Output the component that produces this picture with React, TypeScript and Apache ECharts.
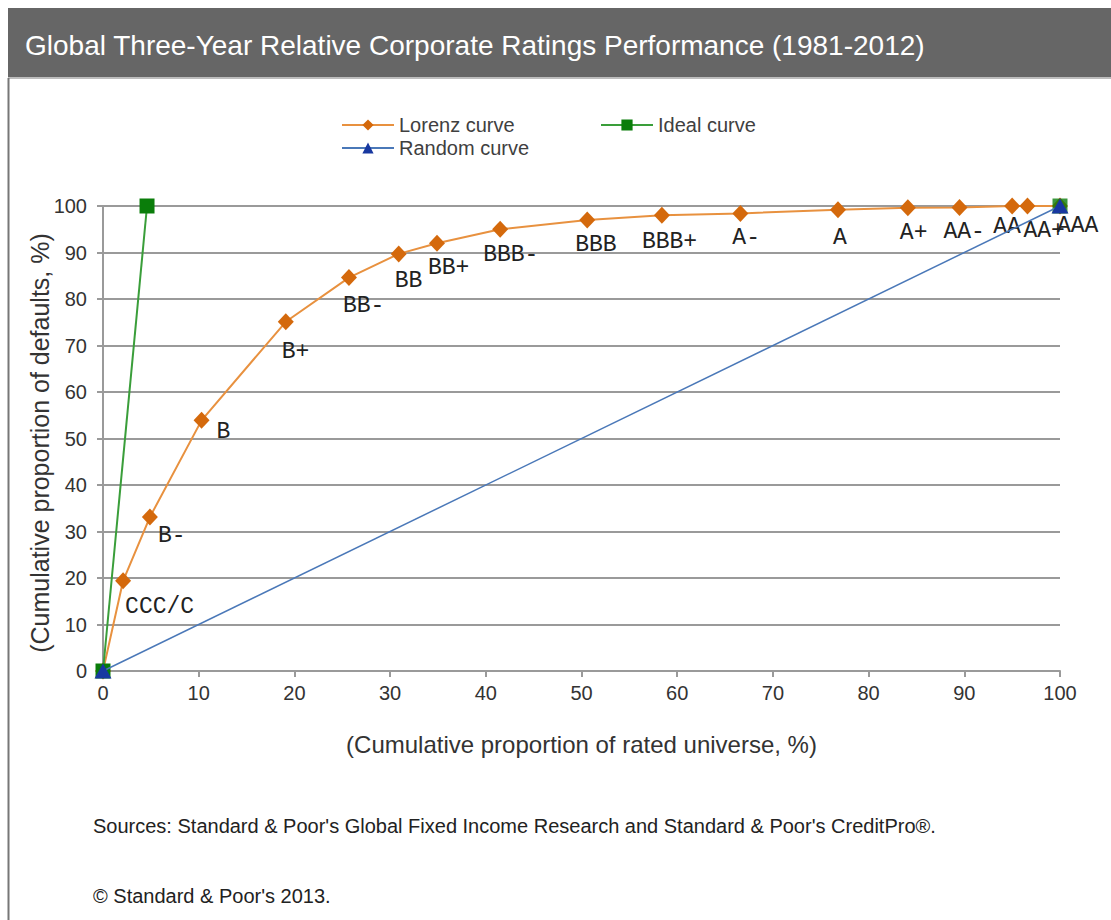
import React, { useEffect, useRef } from "react";
import * as echarts from "echarts";

const ratings = ["", "CCC/C", "B-", "B", "B+", "BB-", "BB", "BB+", "BBB-", "BBB", "BBB+", "A-", "A", "A+", "AA-", "AA", "AA+", "AAA"];
const lorenzX = [0, 2.1, 4.9, 10.3, 19.1, 25.7, 30.9, 34.9, 41.5, 50.6, 58.4, 66.6, 76.8, 84.1, 89.5, 95.0, 96.6, 100];
const lorenzY = [0, 19.4, 33.1, 53.9, 75.1, 84.6, 89.7, 92.0, 95.0, 97.0, 98.0, 98.4, 99.2, 99.6, 99.7, 100, 100, 100];
const labelOffsets: number[][] = [
  [0, 0], [2, 26], [8, 19], [15, 12], [-4, 30], [-6, 28], [-4, 27], [-9, 25], [-17, 26], [-12, 25],
  [-20, 27], [-8, 25], [-5, 28], [-8, 25], [-16, 25], [-19, 21], [-4, 25], [-3, 20],
];
const idealX = [0, 4.6];
const idealY = [0, 100];
const idealEnd = [100, 100];
const randomX = [0, 100];
const randomY = [0, 100];

const title = "Global Three-Year Relative Corporate Ratings Performance (1981-2012)";
const xName = "(Cumulative proportion of rated universe, %)";
const yName = "(Cumulative proportion of defaults, %)";
const note1 = "Sources: Standard & Poor's Global Fixed Income Research and Standard & Poor's CreditPro®.";
const note2 = "© Standard & Poor's 2013.";

const SANS = "'Liberation Sans', Arial, sans-serif";
const MONO = "'Liberation Mono', 'Courier New', monospace";

export default function App() {
  const ref = useRef<HTMLDivElement>(null);
  useEffect(() => {
    document.body.style.margin = "0";
    document.body.style.overflow = "hidden";
    if (!ref.current) return;
    const chart = echarts.init(ref.current, null, { renderer: "svg" });

    const lorenzData = lorenzX.map((x, i) => ({
      value: [x, lorenzY[i]],
      name: ratings[i],
      label: {
        show: ratings[i] !== "",
        offset: labelOffsets[i],
      },
    }));

    const legendCommon = {
      itemWidth: 52,
      itemHeight: 14,
      itemGap: 4,
      padding: 0,
      textStyle: { fontFamily: SANS, fontSize: 20, color: "#404040" },
      selectedMode: false,
    };

    chart.setOption({
      animation: false,
      backgroundColor: "#ffffff",
      grid: {
        left: 103,
        top: 206,
        width: 957,
        height: 465,
        containLabel: false,
        outerBoundsMode: "none",
      },
      legend: [
        { ...legendCommon, left: 341, top: 115, data: ["Lorenz curve"] },
        { ...legendCommon, left: 600, top: 115, data: ["Ideal curve"] },
        { ...legendCommon, left: 341, top: 138, data: ["Random curve"] },
      ],
      xAxis: {
        type: "value",
        min: 0,
        max: 100,
        interval: 10,
        name: xName,
        nameLocation: "middle",
        nameGap: 61,
        nameTextStyle: { fontFamily: SANS, fontSize: 24, color: "#333" },
        axisLine: { show: true, lineStyle: { color: "#9a9a9a", width: 2 } },
        axisTick: { show: true, length: 6, lineStyle: { color: "#9a9a9a", width: 2 } },
        splitLine: { show: false },
        axisLabel: { fontFamily: SANS, fontSize: 20, color: "#333", margin: 12 },
      },
      yAxis: {
        type: "value",
        min: 0,
        max: 100,
        interval: 10,
        axisLine: { show: true, lineStyle: { color: "#9a9a9a", width: 2 } },
        axisTick: { show: true, length: 6, lineStyle: { color: "#9a9a9a", width: 2 } },
        splitLine: { show: true, lineStyle: { color: "#9a9a9a", width: 2 } },
        axisLabel: { fontFamily: SANS, fontSize: 20, color: "#333", margin: 16 },
      },
      graphic: [
        { type: "rect", shape: { x: 8, y: 8, width: 1103, height: 70 }, style: { fill: "#666666" }, z: 10 },
        { type: "line", shape: { x1: 8, y1: 78, x2: 1111, y2: 78 }, style: { stroke: "#bdbdbd", lineWidth: 2 }, z: 10 },
        { type: "line", shape: { x1: 8.5, y1: 78, x2: 8.5, y2: 920 }, style: { stroke: "#777777", lineWidth: 2 }, z: 10 },
        {
          type: "text", x: 25, y: 45, z: 11,
          style: { text: title, fill: "#ffffff", font: `28px ${SANS}`, textVerticalAlign: "middle" },
        },
        {
          type: "text", x: 40, y: 443, rotation: Math.PI / 2, z: 11,
          style: { text: yName, fill: "#333", font: `25px ${SANS}`, textAlign: "center", textVerticalAlign: "middle" },
        },
        {
          type: "text", x: 93, y: 826, z: 11,
          style: { text: note1, fill: "#222", font: `20px ${SANS}`, textVerticalAlign: "middle" },
        },
        {
          type: "text", x: 93, y: 896, z: 11,
          style: { text: note2, fill: "#222", font: `20px ${SANS}`, textVerticalAlign: "middle" },
        },
      ],
      series: [
        {
          name: "Lorenz curve",
          type: "line",
          data: lorenzData,
          symbol: "diamond",
          symbolSize: [16, 17],
          lineStyle: { color: "#E8913F", width: 2 },
          itemStyle: { color: "#D4690C" },
          label: {
            position: "inside",
            align: "left",
            verticalAlign: "middle",
            formatter: (p: any) => p.name,
            fontFamily: MONO,
            fontSize: 23,
            color: "#222",
          },
          z: 3,
        },
        {
          name: "Ideal curve",
          type: "line",
          data: idealX.map((x, i) => [x, idealY[i]]),
          symbol: "rect",
          symbolSize: 15,
          lineStyle: { color: "#3A9E3A", width: 2 },
          itemStyle: { color: "#0A7D0A" },
          z: 4,
        },
        {
          name: "Ideal curve",
          type: "scatter",
          data: [idealEnd],
          symbol: "rect",
          symbolSize: 15,
          itemStyle: { color: "#0A7D0A" },
          z: 4,
        },
        {
          name: "Random curve",
          type: "line",
          data: randomX.map((x, i) => [x, randomY[i]]),
          symbol: "triangle",
          symbolSize: [17, 15],
          lineStyle: { color: "#4A78B8", width: 1.5 },
          itemStyle: { color: "#1838A0" },
          z: 5,
        },
      ],
    });
    return () => chart.dispose();
  }, []);
  return <div ref={ref} style={{ width: 1111, height: 920 }} />;
}
